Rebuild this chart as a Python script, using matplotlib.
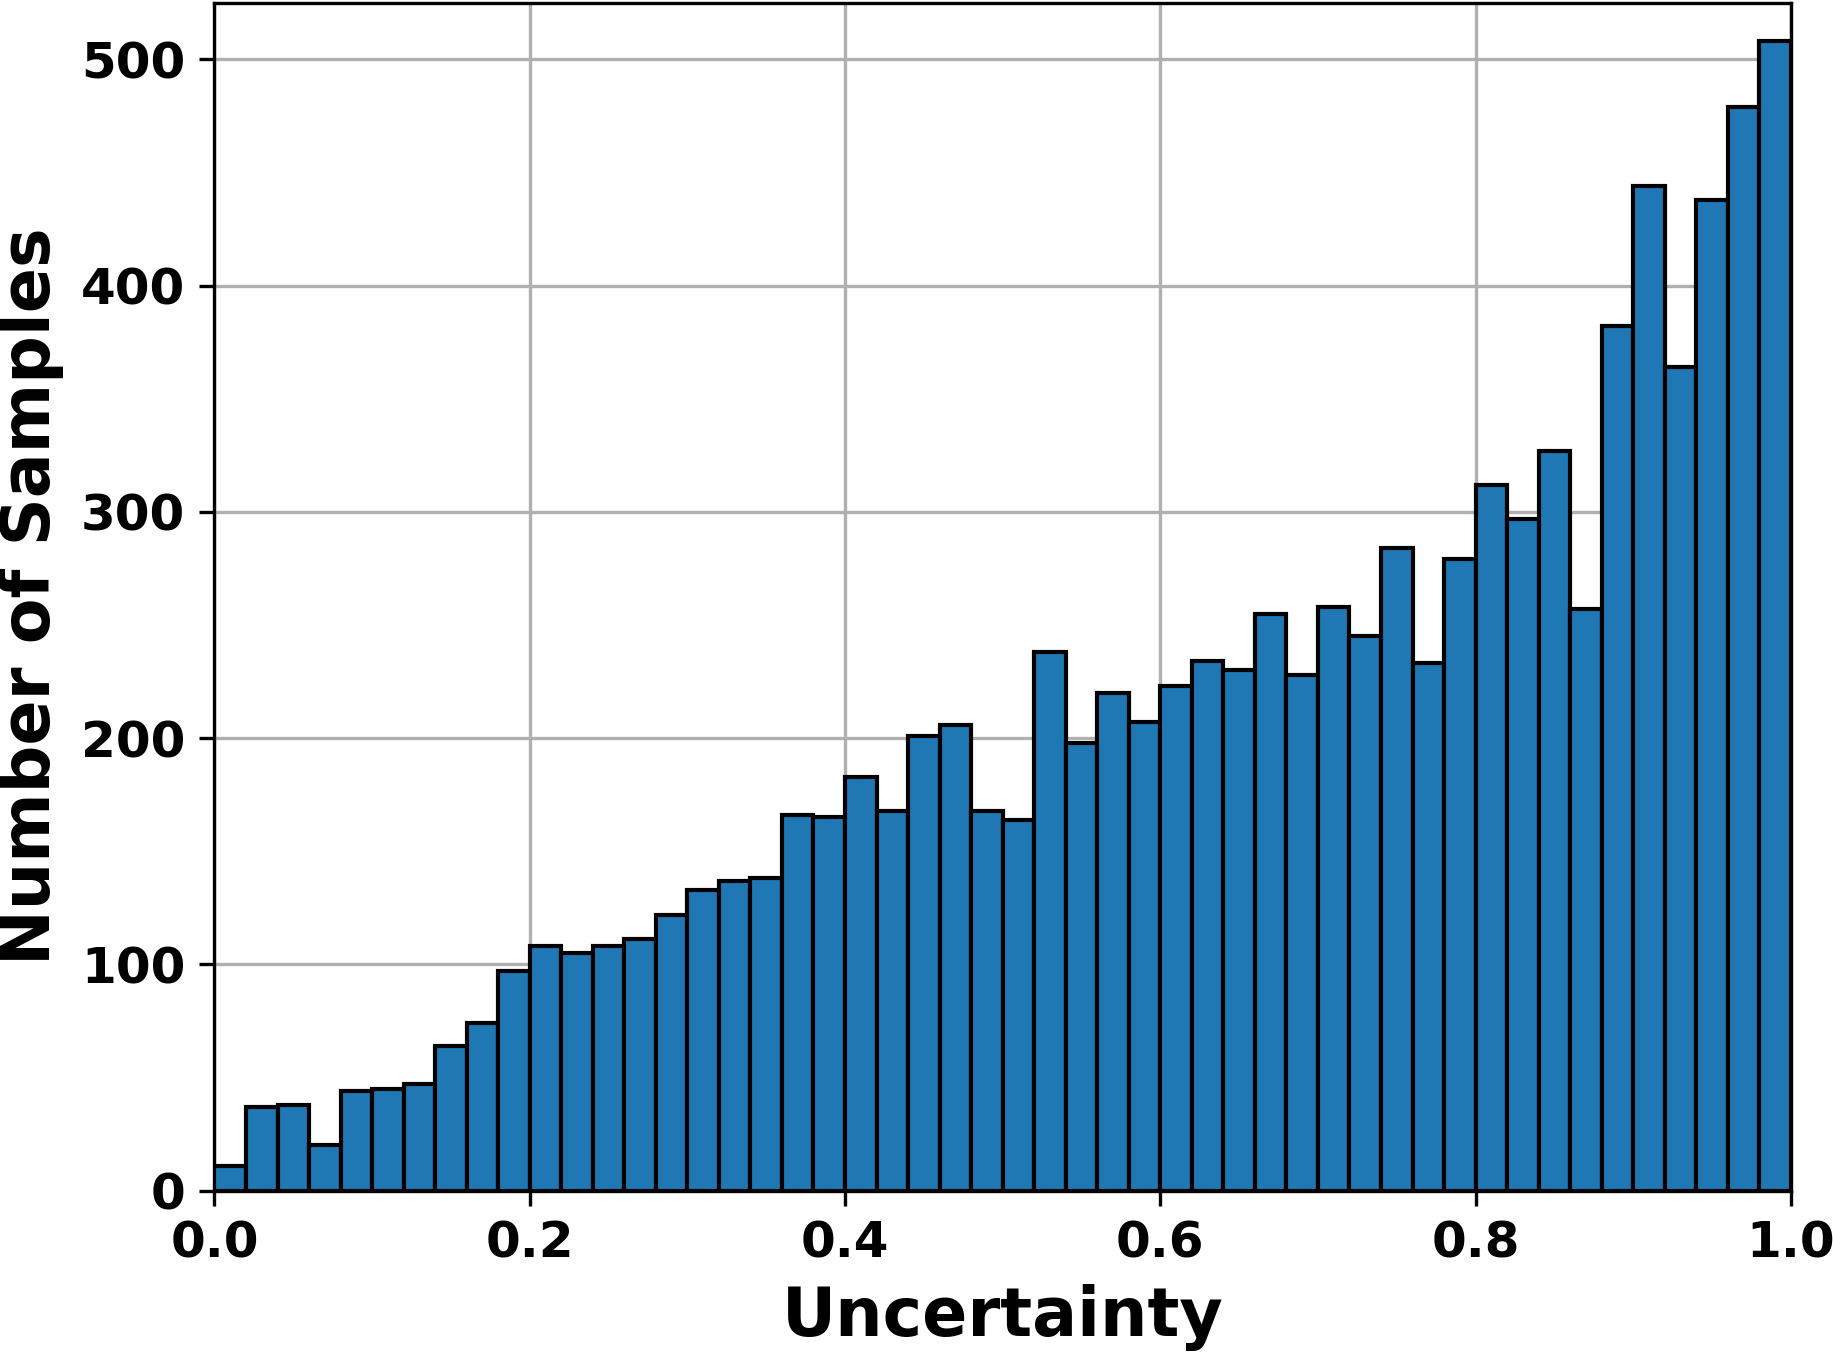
import numpy as np
import matplotlib.pyplot as plt

# histogram counts, 50 bins on [0, 1]
bin_edges = np.linspace(0.0, 1.0, 51)
counts = [11, 37, 38, 20, 44, 45, 47, 64, 74, 97,
          108, 105, 108, 111, 122, 133, 137, 138, 166, 165,
          183, 168, 201, 206, 168, 164, 238, 198, 220, 207,
          223, 234, 230, 255, 228, 258, 245, 284, 233, 279,
          312, 297, 327, 257, 382, 444, 364, 438, 479, 508]
x_ticks = [0.0, 0.2, 0.4, 0.6, 0.8, 1.0]
y_ticks = [0, 100, 200, 300, 400, 500]

plt.rcParams['font.weight'] = 'bold'
plt.rcParams['axes.labelweight'] = 'bold'

fig, ax = plt.subplots(figsize=(6.11, 4.51), dpi=300)
fig.subplots_adjust(left=0.117, right=0.977, top=0.998, bottom=0.12)

ax.hist(bin_edges[:-1], bins=bin_edges, weights=counts,
        color='#1f77b4', edgecolor='black', linewidth=1.0, zorder=3)
ax.grid(True, color='#b0b0b0', linewidth=0.8, zorder=0)
ax.set_axisbelow(True)

ax.set_xlim(0, 1)
ax.set_ylim(0, 525)
ax.set_xticks(x_ticks)
ax.set_yticks(y_ticks)
ax.tick_params(labelsize=12)
ax.set_xlabel('Uncertainty', fontsize=16, labelpad=4)
ax.set_ylabel('Number of Samples', fontsize=16, labelpad=4)

fig.savefig('out.png', dpi=300)
